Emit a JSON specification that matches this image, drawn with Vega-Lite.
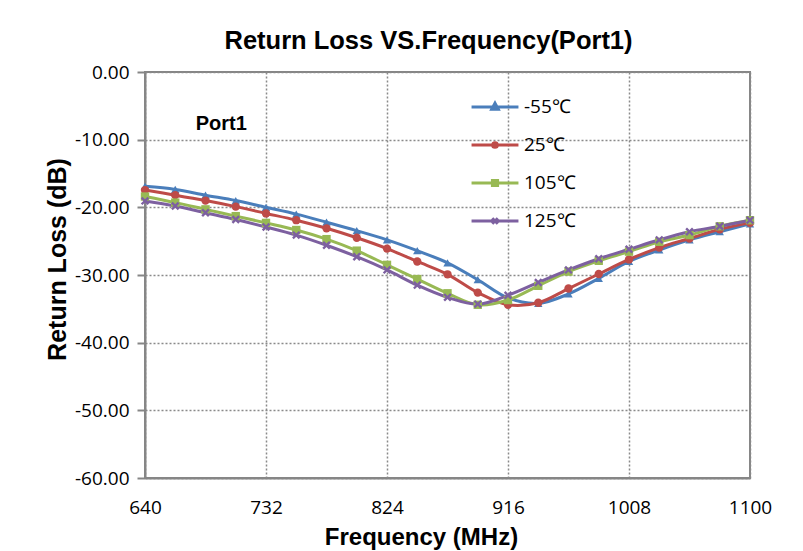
{
  "$schema": "https://vega.github.io/schema/vega-lite/v6.json",
  "width": 605,
  "height": 406,
  "autosize": "none",
  "padding": {"left": 145, "top": 72, "right": 53, "bottom": 73},
  "background": "white",
  "title": {
    "text": "Return Loss VS.Frequency(Port1)",
    "font": "Liberation Sans",
    "fontSize": 25.5,
    "fontWeight": "bold",
    "color": "black",
    "anchor": "middle",
    "dx": -19,
    "dy": 23,
    "offset": 12,
    "baseline": "alphabetic"
  },
  "config": {
    "view": {"stroke": "#868686", "strokeWidth": 2},
    "axis": {
      "domainColor": "#868686",
      "domainWidth": 2,
      "gridColor": "#8a8a8a",
      "gridDash": [2, 2],
      "gridWidth": 1.5,
      "labelFont": "Open Sans",
      "labelFontSize": 19,
      "labelColor": "black",
      "titleFont": "Liberation Sans",
      "titleFontWeight": "bold",
      "titleColor": "black"
    }
  },
  "datasets": {
    "rl": [
      {"f": 640, "-55℃": -16.9, "25℃": -17.45, "105℃": -18.4, "125℃": -19.05},
      {"f": 663, "-55℃": -17.35, "25℃": -18.2, "105℃": -19.3, "125℃": -19.8},
      {"f": 686, "-55℃": -18.2, "25℃": -19.0, "105℃": -20.3, "125℃": -20.8},
      {"f": 709, "-55℃": -19.0, "25℃": -19.9, "105℃": -21.3, "125℃": -21.8},
      {"f": 732, "-55℃": -20.0, "25℃": -20.9, "105℃": -22.3, "125℃": -22.9},
      {"f": 755, "-55℃": -21.0, "25℃": -21.9, "105℃": -23.35, "125℃": -24.1},
      {"f": 778, "-55℃": -22.2, "25℃": -23.1, "105℃": -24.7, "125℃": -25.6},
      {"f": 801, "-55℃": -23.45, "25℃": -24.5, "105℃": -26.4, "125℃": -27.3},
      {"f": 824, "-55℃": -24.8, "25℃": -26.1, "105℃": -28.5, "125℃": -29.25},
      {"f": 847, "-55℃": -26.4, "25℃": -28.0, "105℃": -30.6, "125℃": -31.5},
      {"f": 870, "-55℃": -28.2, "25℃": -29.9, "105℃": -32.7, "125℃": -33.3},
      {"f": 893, "-55℃": -30.7, "25℃": -32.6, "105℃": -34.4, "125℃": -34.3},
      {"f": 916, "-55℃": -33.4, "25℃": -34.4, "105℃": -33.7, "125℃": -33.0},
      {"f": 939, "-55℃": -34.2, "25℃": -34.1, "105℃": -31.6, "125℃": -31.1},
      {"f": 962, "-55℃": -32.8, "25℃": -32.0, "105℃": -29.5, "125℃": -29.25},
      {"f": 985, "-55℃": -30.5, "25℃": -29.85, "105℃": -27.9, "125℃": -27.6},
      {"f": 1008, "-55℃": -28.0, "25℃": -27.7, "105℃": -26.55, "125℃": -26.2},
      {"f": 1031, "-55℃": -26.3, "25℃": -25.95, "105℃": -25.1, "125℃": -24.8},
      {"f": 1054, "-55℃": -24.8, "25℃": -24.6, "105℃": -24.1, "125℃": -23.6},
      {"f": 1077, "-55℃": -23.6, "25℃": -23.25, "105℃": -22.8, "125℃": -22.8},
      {"f": 1100, "-55℃": -22.45, "25℃": -22.3, "105℃": -21.9, "125℃": -21.9}
    ],
    "note": [{"f": 698, "value": -8.6, "t": "Port1"}]
  },
  "encoding": {
    "x": {
      "field": "f",
      "type": "quantitative",
      "scale": {"domain": [640, 1100], "nice": false, "zero": false},
      "axis": {
        "values": [640, 732, 824, 916, 1008, 1100],
        "format": "d",
        "title": "Frequency (MHz)",
        "titleFontSize": 24,
        "titleX": 276,
        "titleY": 66,
        "titleBaseline": "alphabetic",
        "titleAnchor": "middle",
        "ticks": false,
        "labelPadding": 20,
        "labelFlush": false,
        "grid": true
      }
    },
    "y": {
      "field": "value",
      "type": "quantitative",
      "scale": {"domain": [-60, 0], "nice": false, "zero": false},
      "axis": {
        "values": [0, -10, -20, -30, -40, -50, -60],
        "labelExpr": "replace(format(datum.value, '.2f'), '−', '-')",
        "title": "Return Loss (dB)",
        "titleFontSize": 25,
        "titleX": -75,
        "titleY": 187,
        "titleAngle": -90,
        "titleBaseline": "bottom",
        "titleAnchor": "middle",
        "tickSize": 8,
        "tickColor": "#868686",
        "tickWidth": 2,
        "labelPadding": 8,
        "grid": true
      }
    }
  },
  "layer": [
    {
      "data": {"name": "rl"},
      "transform": [{"fold": ["-55℃", "25℃", "105℃", "125℃"]}],
      "mark": {"type": "line", "interpolate": "catmull-rom", "strokeWidth": 3},
      "encoding": {
        "color": {
          "field": "key",
          "type": "nominal",
          "scale": {"domain": ["-55℃", "25℃", "105℃", "125℃"], "range": ["#4A7EBB", "#BE4B48", "#98B954", "#7D60A0"]},
          "legend": null
        }
      }
    },
    {
      "data": {"name": "rl"},
      "transform": [{"fold": ["-55℃", "25℃", "105℃", "125℃"]}],
      "mark": {"type": "point", "filled": true, "opacity": 1, "size": 70},
      "encoding": {
        "color": {
          "field": "key",
          "type": "nominal",
          "scale": {"domain": ["-55℃", "25℃", "105℃", "125℃"], "range": ["#4A7EBB", "#BE4B48", "#98B954", "#7D60A0"]},
          "legend": null
        },
        "shape": {
          "field": "key",
          "type": "nominal",
          "scale": {
            "domain": ["-55℃", "25℃", "105℃", "125℃"],
            "range": ["triangle-up", "circle", "square", "M-1,-0.6L-0.6,-1L0,-0.4L0.6,-1L1,-0.6L0.4,0L1,0.6L0.6,1L0,0.4L-0.6,1L-1,0.6L-0.4,0Z"]
          },
          "legend": null
        }
      }
    },
    {
      "data": {"name": "rl"},
      "transform": [{"fold": ["-55℃", "25℃", "105℃", "125℃"]}],
      "mark": {"type": "point", "filled": false, "opacity": 1, "size": 0, "strokeWidth": 3},
      "encoding": {
        "color": {
          "field": "key",
          "type": "nominal",
          "scale": {"domain": ["-55℃", "25℃", "105℃", "125℃"], "range": ["#4A7EBB", "#BE4B48", "#98B954", "#7D60A0"]},
          "legend": {
            "title": null,
            "orient": "none",
            "legendX": 325,
            "legendY": 10,
            "symbolSize": 2200,
            "symbolStrokeWidth": 3,
            "labelFont": "Open Sans",
            "labelFontSize": 19,
            "labelColor": "black",
            "labelOffset": 4,
            "rowPadding": 3
          }
        },
        "shape": {
          "field": "key",
          "type": "nominal",
          "scale": {
            "domain": ["-55℃", "25℃", "105℃", "125℃"],
            "range": [
              "M-1,0H1M0,-0.16L0.14,0.1L-0.14,0.1Z",
              "M-1,0H1M0.1,0A0.1,0.1,0,1,1,-0.1,0A0.1,0.1,0,1,1,0.1,0Z",
              "M-1,0H1M-0.11,-0.11H0.11V0.11H-0.11Z",
              "M-1,0H1M-0.12,-0.12L0.12,0.12M-0.12,0.12L0.12,-0.12"
            ]
          },
          "legend": {
            "title": null,
            "orient": "none",
            "legendX": 325,
            "legendY": 10,
            "symbolSize": 2200,
            "symbolStrokeWidth": 3,
            "labelFont": "Open Sans",
            "labelFontSize": 19,
            "labelColor": "black",
            "labelOffset": 4,
            "rowPadding": 3
          }
        }
      }
    },
    {
      "data": {"name": "note"},
      "mark": {"type": "text", "font": "Liberation Sans", "fontSize": 20, "fontWeight": "bold", "color": "black", "align": "center", "baseline": "alphabetic"},
      "encoding": {"text": {"field": "t", "type": "nominal"}}
    }
  ],
  "resolve": {"scale": {"shape": "independent", "color": "independent"}}
}
